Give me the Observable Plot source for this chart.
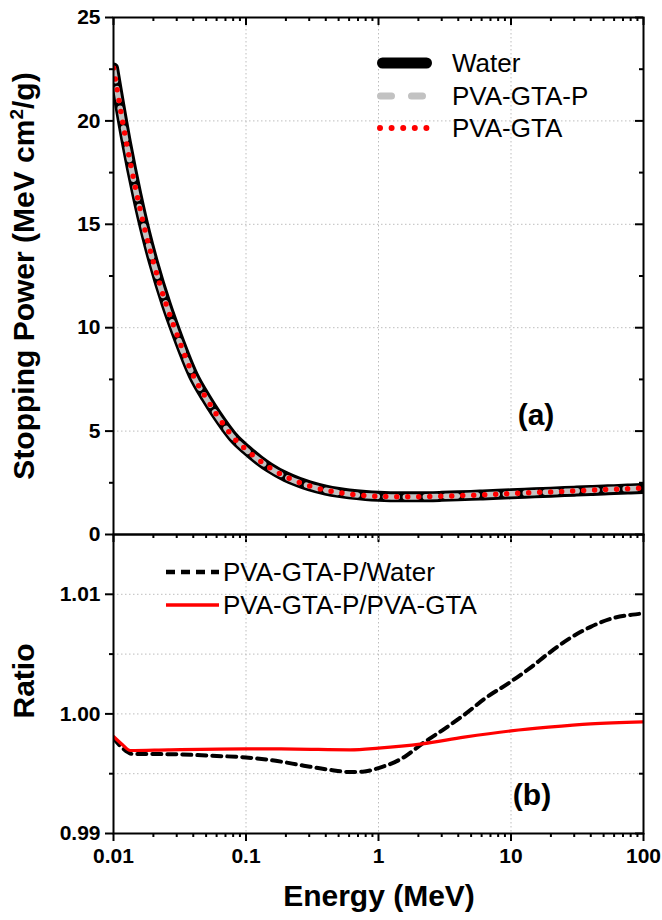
<!DOCTYPE html>
<html><head><meta charset="utf-8">
<script src="https://cdn.jsdelivr.net/npm/d3@7"></script>
<script src="https://cdn.jsdelivr.net/npm/@observablehq/plot@0.6"></script>
<style>
body{margin:0;background:#fff;}
#wrap{position:relative;width:662px;height:920px;font-family:"Liberation Sans",Arial,sans-serif;color:#000;overflow:hidden;}
#wrap > svg{position:absolute;left:0;}
.lbl{position:absolute;white-space:nowrap;line-height:1;}
.leg{position:absolute;display:flex;align-items:center;white-space:nowrap;line-height:1;font-size:26px;}
.leg svg{display:block;margin-right:20px;}
</style></head><body><div id="wrap"></div>
<script>
// ---------- data ----------
const energy = [0.01, 0.0125, 0.015, 0.0175, 0.02, 0.025, 0.03, 0.04, 0.05, 0.06, 0.07, 0.08, 0.1, 0.125, 0.15, 0.2, 0.25, 0.3, 0.4, 0.5, 0.6, 0.8, 1, 1.5, 2, 3, 4, 5, 6, 8, 10, 15, 20, 30, 40, 50, 60, 80, 100];
const water = [22.56, 18.97, 16.45, 14.58, 13.17, 11.13, 9.70, 7.70, 6.60, 5.80, 5.19, 4.71, 4.115, 3.60, 3.24, 2.79, 2.53, 2.355, 2.148, 2.034, 1.963, 1.886, 1.849, 1.822, 1.824, 1.846, 1.870, 1.892, 1.911, 1.942, 1.968, 2.014, 2.048, 2.094, 2.126, 2.150, 2.170, 2.200, 2.223];
const pvaGtaP = [22.52, 18.92, 16.40, 14.53, 13.13, 11.09, 9.67, 7.67, 6.58, 5.78, 5.17, 4.69, 4.10, 3.59, 3.23, 2.78, 2.52, 2.345, 2.138, 2.024, 1.953, 1.877, 1.841, 1.815, 1.818, 1.843, 1.869, 1.894, 1.915, 1.948, 1.973, 2.023, 2.058, 2.107, 2.141, 2.166, 2.187, 2.218, 2.242];
const pvaGta = [22.56, 18.97, 16.45, 14.58, 13.17, 11.12, 9.70, 7.69, 6.60, 5.80, 5.19, 4.70, 4.11, 3.60, 3.24, 2.79, 2.53, 2.352, 2.144, 2.030, 1.959, 1.883, 1.846, 1.820, 1.823, 1.847, 1.873, 1.897, 1.918, 1.951, 1.976, 2.026, 2.060, 2.109, 2.143, 2.168, 2.188, 2.219, 2.244];

const ratioEnergyW = [0.01, 0.0117, 0.0141, 0.02, 0.03, 0.055, 0.1, 0.163, 0.273, 0.424, 0.61, 0.76, 1, 1.59, 2.13, 3.07, 4.43, 6.4, 10, 14.3, 19.2, 27.6, 39.9, 57.5, 82.8, 100];
const ratioPWater = [0.99797, 0.99714, 0.99664, 0.99664, 0.99662, 0.9965, 0.99636, 0.9961, 0.99567, 0.99533, 0.99514, 0.99517, 0.99547, 0.99644, 0.9975, 0.99867, 0.99992, 1.00131, 1.0027, 1.00394, 1.00506, 1.0063, 1.00728, 1.00797, 1.0083, 1.0084];
const ratioEnergyG = [0.01, 0.0117, 0.0134, 0.026, 0.1, 0.236, 0.61, 1, 2.13, 4.43, 10, 19.2, 39.9, 100];
const ratioPGta = [0.99811, 0.99742, 0.99694, 0.997, 0.99708, 0.99706, 0.997, 0.99714, 0.9975, 0.99806, 0.99858, 0.99889, 0.99917, 0.99933];

const xTicks = [0.01, 0.1, 1, 10, 100];
const xTickLabels = ["0.01", "0.1", "1", "10", "100"];
const xGrid = [0.1, 1, 10];
const yTicksTop = [0, 5, 10, 15, 20, 25];
const yTickLabelsTop = ["0", "5", "10", "15", "20", "25"];
const yMinorTop = [2.5, 7.5, 12.5, 17.5, 22.5];
const yGridTop = [5, 10, 15, 20];
const yTicksBot = [0.99, 1.00, 1.01];
const yTickLabelsBot = ["0.99", "1.00", "1.01"];
const yMinorBot = [0.995, 1.005];
const yGridBot = [0.995, 1.0, 1.005, 1.01];
const xMinor = [];
for (const d of [0.01, 0.1, 1, 10]) for (let m = 2; m <= 9; m++) xMinor.push(+(d * m).toPrecision(3));

// ---------- layout ----------
const W = 662, ML = 113, MR = 19;
const innerW = W - ML - MR;
const topH = 545, topMT = 17, topMB = 11, topInner = topH - topMT - topMB;
const botTop = 534, botH = 386, botMB = 87, botInner = botH - botMB;
const FONT = "Liberation Sans, Arial, sans-serif";
const gridStyle = {stroke: "#bdbdbd", strokeDasharray: "1.5,2.5", strokeWidth: 1};
const tickFont = {fontSize: 21, fontWeight: "bold", fontFamily: FONT, fill: "#000"};
const topData = energy.map((e, i) => ({E: e, water: water[i], p: pvaGtaP[i], g: pvaGta[i]}));
const rW = ratioEnergyW.map((e, i) => ({E: e, r: ratioPWater[i]}));
const rG = ratioEnergyG.map((e, i) => ({E: e, r: ratioPGta[i]}));
const fmt = (vals, labels) => d => labels[vals.findIndex(v => Math.abs(v - d) < 1e-9)] ?? "";

const topPlot = Plot.plot({
  width: W, height: topH, marginLeft: ML, marginRight: MR, marginTop: topMT, marginBottom: topMB,
  style: {fontFamily: FONT, background: "transparent", overflow: "visible", color: "#000"},
  x: {type: "log", domain: [0.01, 100], label: null},
  y: {domain: [0, 25], label: null},
  marks: [
    Plot.ruleX(xGrid, gridStyle),
    Plot.ruleY(yGridTop, gridStyle),
    Plot.line(topData, {x: "E", y: "water", stroke: "#000", strokeWidth: 11, curve: "monotone-x", strokeLinejoin: "round", clip: true}),
    Plot.line(topData, {x: "E", y: "p", stroke: "#c2c2c2", strokeWidth: 5.5, strokeDasharray: "12,8", strokeLinecap: "round", curve: "monotone-x", clip: true}),
    Plot.line(topData, {x: "E", y: "g", stroke: "#ff0000", strokeWidth: 5.5, strokeDasharray: "0,11", strokeLinecap: "round", curve: "monotone-x", clip: true}),
    Plot.frame({strokeWidth: 2, stroke: "#000"}),
    Plot.axisY(yTicksTop, {anchor: "left", label: null, tickSize: 8, tickPadding: 5, strokeWidth: 2, tickFormat: fmt(yTicksTop, yTickLabelsTop), ...tickFont}),
    Plot.axisY(yMinorTop, {anchor: "left", label: null, tickSize: 4, strokeWidth: 2, tickFormat: () => ""}),
    Plot.axisX(xTicks, {anchor: "bottom", label: null, tickSize: 8, strokeWidth: 2, tickFormat: () => ""}),
    Plot.axisX(xMinor, {anchor: "bottom", label: null, tickSize: 4, strokeWidth: 2, tickFormat: () => ""}),
    Plot.tickX(xTicks, {x: d => d, insetBottom: topInner - 8, strokeWidth: 2}),
    Plot.tickX(xMinor, {x: d => d, insetBottom: topInner - 4, strokeWidth: 2}),
    Plot.tickY(yTicksTop, {y: d => d, insetLeft: innerW - 8, strokeWidth: 2}),
    Plot.tickY(yMinorTop, {y: d => d, insetLeft: innerW - 4, strokeWidth: 2})
  ]
});

const botPlot = Plot.plot({
  width: W, height: botH, marginLeft: ML, marginRight: MR, marginTop: 0, marginBottom: botMB,
  style: {fontFamily: FONT, background: "transparent", overflow: "visible", color: "#000"},
  x: {type: "log", domain: [0.01, 100], label: null},
  y: {domain: [0.99, 1.015], label: null},
  marks: [
    Plot.ruleX(xGrid, gridStyle),
    Plot.ruleY(yGridBot, gridStyle),
    Plot.line(rW, {x: "E", y: "r", stroke: "#000", strokeWidth: 4, strokeDasharray: "9,6", curve: "monotone-x", clip: true}),
    Plot.line(rG, {x: "E", y: "r", stroke: "#ff0000", strokeWidth: 3.2, curve: "monotone-x", clip: true}),
    Plot.frame({strokeWidth: 2, stroke: "#000"}),
    Plot.axisY(yTicksBot, {anchor: "left", label: null, tickSize: 8, tickPadding: 5, strokeWidth: 2, tickFormat: fmt(yTicksBot, yTickLabelsBot), ...tickFont}),
    Plot.axisY(yMinorBot, {anchor: "left", label: null, tickSize: 4, strokeWidth: 2, tickFormat: () => ""}),
    Plot.axisX(xTicks, {anchor: "bottom", label: null, tickSize: 8, tickPadding: 7, strokeWidth: 2, tickFormat: fmt(xTicks, xTickLabels), ...tickFont}),
    Plot.axisX(xMinor, {anchor: "bottom", label: null, tickSize: 4, strokeWidth: 2, tickFormat: () => ""}),
    Plot.tickY(yTicksBot, {y: d => d, insetLeft: innerW - 8, strokeWidth: 2}),
    Plot.tickY(yMinorBot, {y: d => d, insetLeft: innerW - 4, strokeWidth: 2})
  ]
});

const wrap = document.getElementById("wrap");
topPlot.style.top = "0px";
botPlot.style.top = botTop + "px";
wrap.appendChild(topPlot);
wrap.appendChild(botPlot);

function addLabel(html, css) {
  const d = document.createElement("div");
  d.className = "lbl";
  d.innerHTML = html;
  Object.assign(d.style, css);
  wrap.appendChild(d);
  return d;
}
// axis titles
addLabel("Stopping Power (MeV cm<sup style='font-size:19px;vertical-align:11px;line-height:0'>2</sup>/g)",
  {left: "24px", top: "276px", fontSize: "30px", fontWeight: "bold", transform: "translate(-50%,-50%) rotate(-90deg)"});
addLabel("Ratio", {left: "24px", top: "681px", fontSize: "30px", fontWeight: "bold", transform: "translate(-50%,-50%) rotate(-90deg)"});
addLabel("Energy (MeV)", {left: "379px", top: "881px", fontSize: "30px", fontWeight: "bold", transform: "translateX(-50%)"});
addLabel("(a)", {left: "536px", top: "400px", fontSize: "30px", fontWeight: "bold", transform: "translateX(-50%)"});
addLabel("(b)", {left: "532px", top: "780px", fontSize: "30px", fontWeight: "bold", transform: "translateX(-50%)"});

// legends
const topLegend = [
  {name: "Water", stroke: "#000", width: 11, dash: null},
  {name: "PVA-GTA-P", stroke: "#c2c2c2", width: 7, dash: "11,20"},
  {name: "PVA-GTA", stroke: "#ff0000", width: 6, dash: "0,11.6"}
];
const botLegend = [
  {name: "PVA-GTA-P/Water", stroke: "#000", width: 4.5, dash: "9,6", cap: "butt"},
  {name: "PVA-GTA-P/PVA-GTA", stroke: "#ff0000", width: 3.5, dash: null, cap: "butt"}
];
function legendRow(item, x, yCenter, sampleW, gap) {
  const d = document.createElement("div");
  d.className = "leg";
  d.style.left = x + "px";
  d.style.top = (yCenter - 15) + "px";
  d.style.height = "30px";
  const s = d3.create("svg").attr("width", sampleW).attr("height", 14).style("margin-right", gap + "px");
  const cap = item.cap || "round";
  const pad = cap === "round" ? item.width / 2 : 0;
  s.append("line").attr("x1", pad).attr("x2", sampleW - pad).attr("y1", 7).attr("y2", 7)
    .attr("stroke", item.stroke).attr("stroke-width", item.width).attr("stroke-linecap", cap)
    .attr("stroke-dasharray", item.dash);
  d.appendChild(s.node());
  const t = document.createElement("span");
  t.textContent = item.name;
  d.appendChild(t);
  wrap.appendChild(d);
}
topLegend.forEach((it, i) => legendRow(it, 377, 63 + i * 32.5, 55, 20));
botLegend.forEach((it, i) => legendRow(it, 166, 572 + i * 33, 53, 4));
</script></body></html>
